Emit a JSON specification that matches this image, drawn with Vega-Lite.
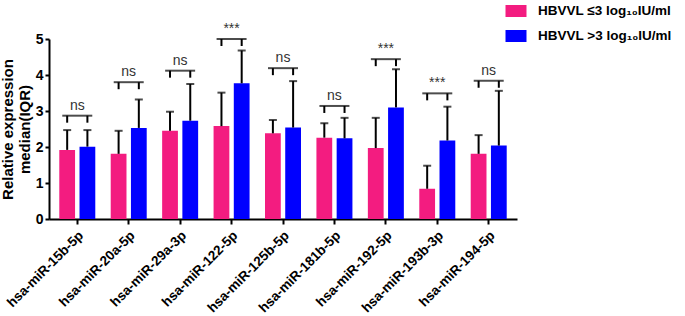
{
  "$schema": "https://vega.github.io/schema/vega-lite/v6.json",
  "autosize": "none",
  "width": 468,
  "height": 180,
  "padding": {"left": 49, "top": 39, "right": 168, "bottom": 97},
  "background": "white",
  "config": {
    "view": {"stroke": null},
    "font": "Liberation Sans"
  },
  "datasets": {
    "bars": [
      {"mirna": "hsa-miR-15b-5p", "group": "HBVVL ≤3 log₁₀IU/ml", "value": 1.92, "upper": 2.47},
      {"mirna": "hsa-miR-15b-5p", "group": "HBVVL >3 log₁₀IU/ml", "value": 2.01, "upper": 2.47},
      {"mirna": "hsa-miR-20a-5p", "group": "HBVVL ≤3 log₁₀IU/ml", "value": 1.81, "upper": 2.45},
      {"mirna": "hsa-miR-20a-5p", "group": "HBVVL >3 log₁₀IU/ml", "value": 2.53, "upper": 3.32},
      {"mirna": "hsa-miR-29a-3p", "group": "HBVVL ≤3 log₁₀IU/ml", "value": 2.45, "upper": 2.98},
      {"mirna": "hsa-miR-29a-3p", "group": "HBVVL >3 log₁₀IU/ml", "value": 2.73, "upper": 3.75},
      {"mirna": "hsa-miR-122-5p", "group": "HBVVL ≤3 log₁₀IU/ml", "value": 2.58, "upper": 3.51},
      {"mirna": "hsa-miR-122-5p", "group": "HBVVL >3 log₁₀IU/ml", "value": 3.77, "upper": 4.68},
      {"mirna": "hsa-miR-125b-5p", "group": "HBVVL ≤3 log₁₀IU/ml", "value": 2.38, "upper": 2.75},
      {"mirna": "hsa-miR-125b-5p", "group": "HBVVL >3 log₁₀IU/ml", "value": 2.54, "upper": 3.83},
      {"mirna": "hsa-miR-181b-5p", "group": "HBVVL ≤3 log₁₀IU/ml", "value": 2.26, "upper": 2.66},
      {"mirna": "hsa-miR-181b-5p", "group": "HBVVL >3 log₁₀IU/ml", "value": 2.24, "upper": 2.81},
      {"mirna": "hsa-miR-192-5p", "group": "HBVVL ≤3 log₁₀IU/ml", "value": 1.97, "upper": 2.81},
      {"mirna": "hsa-miR-192-5p", "group": "HBVVL >3 log₁₀IU/ml", "value": 3.10, "upper": 4.16},
      {"mirna": "hsa-miR-193b-3p", "group": "HBVVL ≤3 log₁₀IU/ml", "value": 0.84, "upper": 1.48},
      {"mirna": "hsa-miR-193b-3p", "group": "HBVVL >3 log₁₀IU/ml", "value": 2.18, "upper": 3.12},
      {"mirna": "hsa-miR-194-5p", "group": "HBVVL ≤3 log₁₀IU/ml", "value": 1.81, "upper": 2.33},
      {"mirna": "hsa-miR-194-5p", "group": "HBVVL >3 log₁₀IU/ml", "value": 2.04, "upper": 3.56}
    ],
    "brackets": [
      {"mirna": "hsa-miR-15b-5p", "bracket": 2.87, "label": "ns"},
      {"mirna": "hsa-miR-20a-5p", "bracket": 3.80, "label": "ns"},
      {"mirna": "hsa-miR-29a-3p", "bracket": 4.12, "label": "ns"},
      {"mirna": "hsa-miR-122-5p", "bracket": 5.0, "label": "***"},
      {"mirna": "hsa-miR-125b-5p", "bracket": 4.19, "label": "ns"},
      {"mirna": "hsa-miR-181b-5p", "bracket": 3.14, "label": "ns"},
      {"mirna": "hsa-miR-192-5p", "bracket": 4.44, "label": "***"},
      {"mirna": "hsa-miR-193b-3p", "bracket": 3.49, "label": "***"},
      {"mirna": "hsa-miR-194-5p", "bracket": 3.84, "label": "ns"}
    ]
  },
  "encoding": {
    "x": {
      "field": "mirna",
      "type": "nominal",
      "sort": null,
      "scale": {"paddingInner": 0.3, "paddingOuter": 0.2},
      "axis": {
        "title": null,
        "labelAngle": -45,
        "labelAlign": "right",
        "labelBaseline": "middle",
        "labelFont": "Liberation Sans",
        "labelFontWeight": "bold",
        "labelFontSize": 13.5,
        "labelColor": "black",
        "labelPadding": 9,
        "labelOffset": 4,
        "labelLimit": 200,
        "labelOverlap": false,
        "tickSize": 5,
        "tickWidth": 2,
        "tickColor": "black",
        "domainColor": "black",
        "domainWidth": 2
      }
    },
    "y": {
      "type": "quantitative",
      "scale": {"domain": [0, 5], "nice": false},
      "axis": {
        "title": ["Relative expression", "median(IQR)"],
        "titleFont": "Liberation Sans",
        "titleFontSize": 15,
        "titleFontWeight": "bold",
        "titleColor": "black",
        "titlePadding": 3,
        "titleLineHeight": 17,
        "values": [0, 1, 2, 3, 4, 5],
        "labelOverlap": false,
        "grid": false,
        "labelFont": "Liberation Sans",
        "labelFontSize": 14,
        "labelFontWeight": "bold",
        "labelColor": "black",
        "labelPadding": 2,
        "tickSize": 4,
        "tickWidth": 2,
        "tickColor": "black",
        "domainColor": "black",
        "domainWidth": 2
      }
    }
  },
  "layer": [
    {
      "data": {"name": "bars"},
      "mark": {"type": "bar"},
      "encoding": {
        "xOffset": {
          "field": "group",
          "type": "nominal",
          "scale": {"domain": ["HBVVL ≤3 log₁₀IU/ml", "HBVVL >3 log₁₀IU/ml"], "paddingInner": 0.22}
        },
        "y": {"field": "value"},
        "color": {
          "field": "group",
          "type": "nominal",
          "scale": {"domain": ["HBVVL ≤3 log₁₀IU/ml", "HBVVL >3 log₁₀IU/ml"], "range": ["#F31C80", "#0000FF"]},
          "legend": {
            "title": null,
            "orient": "none",
            "legendX": 455,
            "legendY": -40,
            "symbolType": "M-0.875,-0.5H0.875V0.5H-0.875Z",
            "symbolSize": 576,
            "symbolStrokeWidth": 0,
            "labelFont": "Liberation Sans",
            "labelFontSize": 13.5,
            "labelFontWeight": "bold",
            "labelColor": "black",
            "labelOffset": 10,
            "labelLimit": 300,
            "rowPadding": 6
          }
        }
      }
    },
    {
      "data": {"name": "bars"},
      "mark": {"type": "rule", "color": "black", "strokeWidth": 2},
      "encoding": {
        "xOffset": {"field": "group", "type": "nominal"},
        "y": {"field": "value"},
        "y2": {"field": "upper"}
      }
    },
    {
      "data": {"name": "bars"},
      "mark": {"type": "tick", "color": "black", "orient": "horizontal", "size": 8, "thickness": 2},
      "encoding": {
        "xOffset": {"field": "group", "type": "nominal"},
        "y": {"field": "upper"}
      }
    },
    {
      "data": {"name": "brackets"},
      "mark": {"type": "tick", "color": "black", "orient": "horizontal", "size": 30, "thickness": 2},
      "encoding": {
        "y": {"field": "bracket"}
      }
    },
    {
      "data": {"name": "bars"},
      "transform": [
        {"lookup": "mirna", "from": {"data": {"name": "brackets"}, "key": "mirna", "fields": ["bracket"]}}
      ],
      "mark": {"type": "rule", "color": "black", "strokeWidth": 2, "y2Offset": 7},
      "encoding": {
        "xOffset": {"field": "group", "type": "nominal"},
        "y": {"field": "bracket"},
        "y2": {"field": "bracket"}
      }
    },
    {
      "data": {"name": "brackets"},
      "mark": {"type": "text", "baseline": "bottom", "dy": -3, "fontSize": 14, "color": "#333333", "font": "Liberation Sans"},
      "encoding": {
        "y": {"field": "bracket"},
        "text": {"field": "label"}
      }
    }
  ]
}
